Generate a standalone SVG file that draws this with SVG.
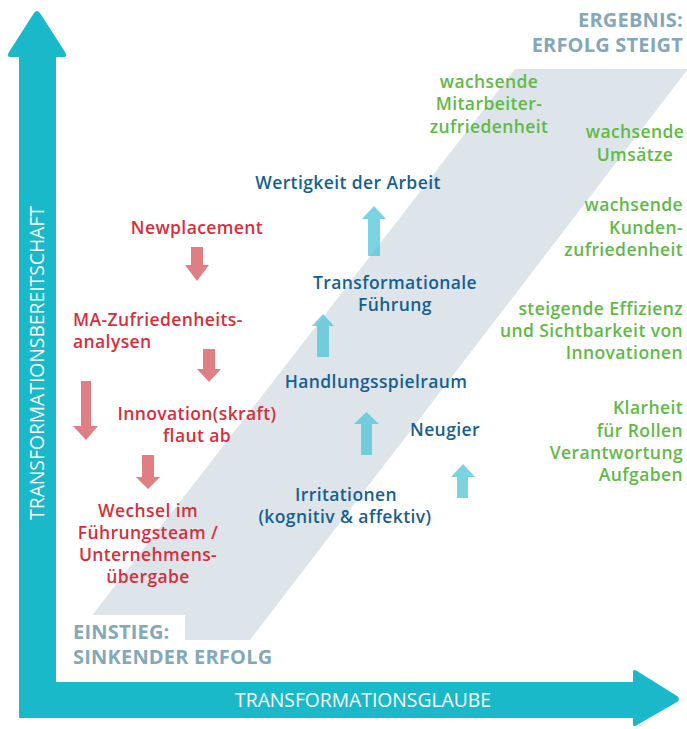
<svg xmlns="http://www.w3.org/2000/svg" width="687" height="729" viewBox="0 0 687 729">
<style>
text{font-family:"Open Sans","DejaVu Sans",sans-serif;font-weight:600;font-size:17.5px;letter-spacing:0.4px}
.r{fill:#d62f3c}
.b{fill:#175f90}
.g{fill:#62b948}
.h{fill:#84a8ba;font-size:20px;font-weight:700;letter-spacing:0.2px}
.ax{fill:#ffffff;font-weight:400;font-size:19.3px;letter-spacing:0}
.m{text-anchor:middle}
.e{text-anchor:end}
.ra{fill:#e07e86}
.ba{fill:#4fc3d6;fill-opacity:0.75}
</style>
<rect width="687" height="729" fill="#ffffff"/>
<g id="band">
<polygon points="515,69 688,69 250,640 73,640" fill="#dde5ea"/>
<rect x="56" y="615" width="129" height="67" fill="#ffffff"/>
</g>
<g id="axes">
<path d="M19,718 V57 H10 Q6,57 9,52 L34,13 Q37,9 40,13 L65,52 Q68,57 64,57 H56 V682 H633 V673 Q633,668 637,671 L677,696 Q681,699 677,702 L637,725 Q633,728 633,724 V718 Z" fill="#19b9c9"/>
<text class="ax m" x="363" y="707">TRANSFORMATIONSGLAUBE</text>
<text class="ax m" transform="translate(44,363) rotate(-90)">TRANSFORMATIONSBEREITSCHAFT</text>
</g>
<g id="labels">
<text class="h e" x="683" y="27">ERGEBNIS:</text>
<text class="h e" x="683" y="52">ERFOLG STEIGT</text>
<text class="h" x="73" y="639">EINSTIEG:</text>
<text class="h" x="73" y="664">SINKENDER ERFOLG</text>
</g>
<g id="red-nodes">
<text class="r m" x="197" y="234">Newplacement</text>
<text class="r" x="73" y="326">MA-Zufriedenheits-</text>
<text class="r" x="73" y="348">analysen</text>
<text class="r m" x="197" y="420">Innovation(skraft)</text>
<text class="r m" x="197" y="442">flaut ab</text>
<text class="r m" x="148" y="517">Wechsel im</text>
<text class="r m" x="148" y="539">Führungsteam /</text>
<text class="r m" x="148" y="561">Unternehmens-</text>
<text class="r m" x="148" y="583">übergabe</text>
</g>
<g id="blue-nodes">
<text class="b m" x="348" y="189">Wertigkeit der Arbeit</text>
<text class="b m" x="395" y="289">Transformationale</text>
<text class="b m" x="395" y="311">Führung</text>
<text class="b m" x="376" y="388">Handlungsspielraum</text>
<text class="b m" x="445" y="436">Neugier</text>
<text class="b m" x="346" y="501">Irritationen</text>
<text class="b m" x="345" y="523">(kognitiv &amp; affektiv)</text>
</g>
<g id="green-nodes">
<text class="g m" x="489" y="88">wachsende</text>
<text class="g m" x="489" y="110">Mitarbeiter-</text>
<text class="g m" x="489" y="133">zufriedenheit</text>
<text class="g m" x="635" y="138">wachsende</text>
<text class="g m" x="635" y="161">Umsätze</text>
<text class="g e" x="683" y="211">wachsende</text>
<text class="g e" x="683" y="234">Kunden-</text>
<text class="g e" x="683" y="256">zufriedenheit</text>
<text class="g e" x="683" y="315">steigende Effizienz</text>
<text class="g e" x="683" y="337">und Sichtbarkeit von</text>
<text class="g e" x="683" y="359">Innovationen</text>
<text class="g e" x="683" y="414">Klarheit</text>
<text class="g e" x="683" y="437">für Rollen</text>
<text class="g e" x="683" y="459">Verantwortung</text>
<text class="g e" x="683" y="481">Aufgaben</text>
</g>
<g id="connectors">
<path class="ra" d="M191,247 H203 V265 H209 L197,281 L185,265 H191 Z"/>
<path class="ra" d="M203,349 H215 V369 H221 L209,382 L197,369 H203 Z"/>
<path class="ra" d="M81,381 H91 V426 H98 L86,440 L73,426 H81 Z"/>
<path class="ra" d="M142,455 H154 V477 H160 L148,489 L136,477 H142 Z"/>
<path class="ba" d="M368,256 V219 H362 L374,206 L386,219 H380 V256 Z"/>
<path class="ba" d="M317,357 V326 H312 L323,314 L334,326 H329 V357 Z"/>
<path class="ba" d="M361,455 V424 H354 L366.5,412 L379,424 H372 V455 Z"/>
<path class="ba" d="M457,498 V477 H451 L463,464 L475,477 H468 V498 Z"/>
</g>
</svg>
